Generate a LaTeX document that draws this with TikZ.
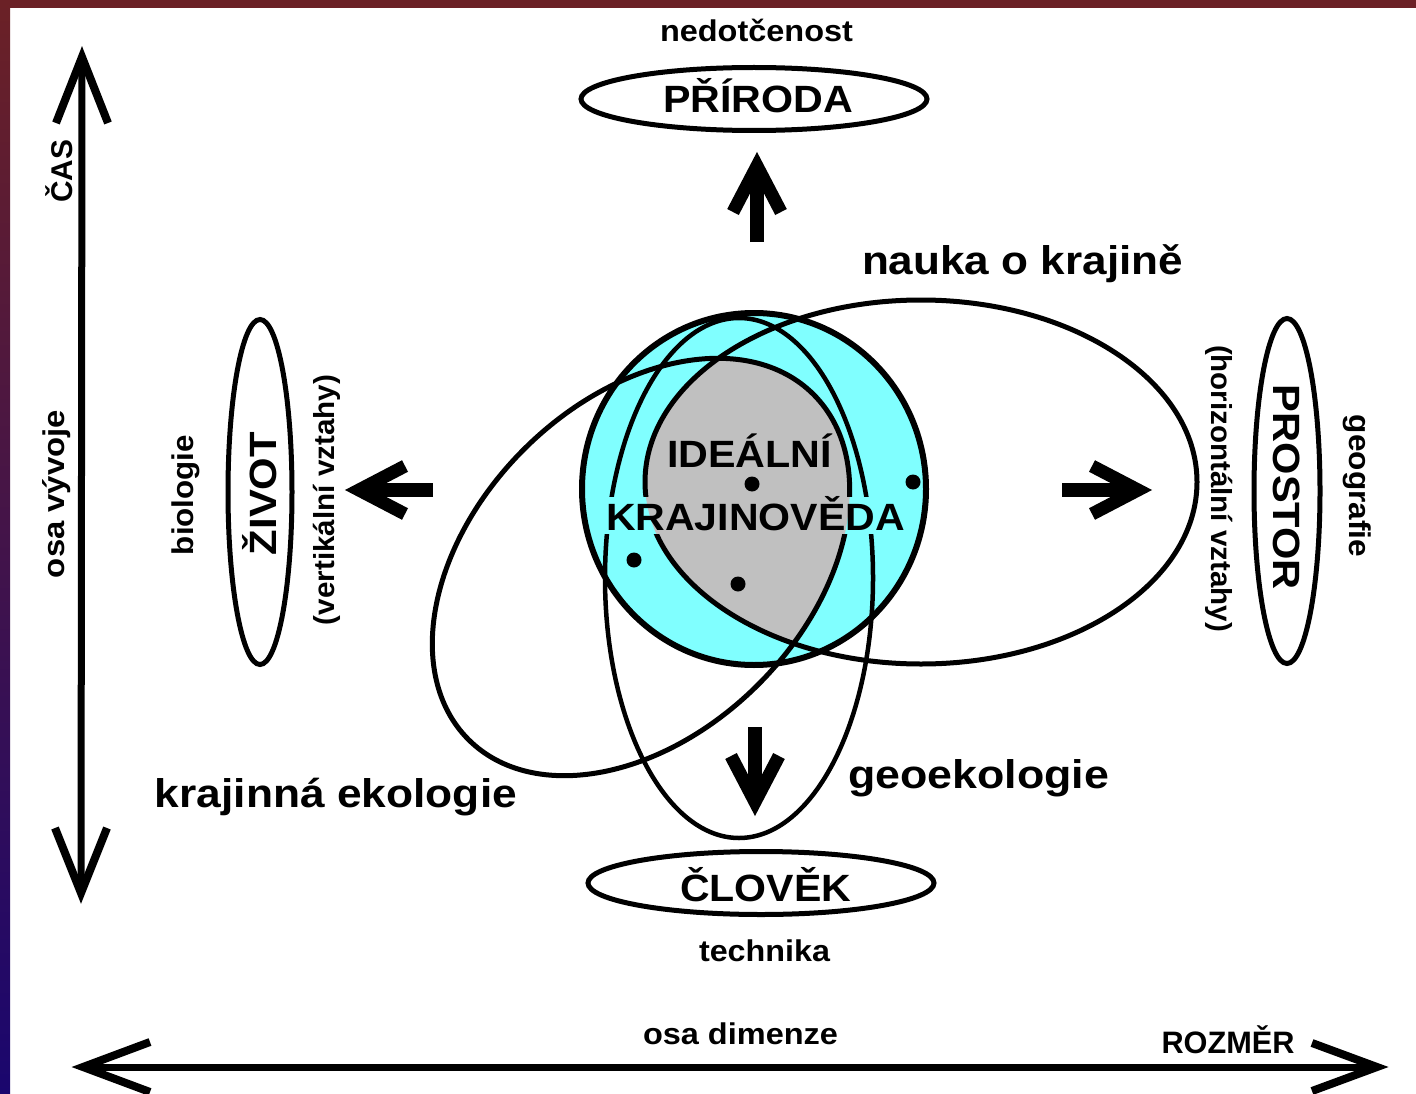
\documentclass[tikz,border=0pt]{standalone}
\usepackage{fontspec}
\setmainfont{Liberation Sans}
\usetikzlibrary{shapes.geometric}
\definecolor{cyanfill}{HTML}{80FFFF}
\definecolor{grayfill}{HTML}{C0C0C0}
\definecolor{bordermaroon}{RGB}{107,33,38}
\definecolor{bordernavy}{RGB}{26,6,110}
\newcommand{\tx}[3]{\fontsize{#1}{#1}\selectfont\bfseries\resizebox{#2pt}{\height}{#3}}
\tikzset{
  txt/.style={inner sep=0pt, outer sep=0pt, anchor=base},
  lblell/.style={ellipse, draw, line width=5pt, inner sep=0pt},
  dotnode/.style={circle, fill=black, inner sep=0pt, minimum size=15pt},
  axisline/.style={line width=7pt},
  axishead/.style={line width=8pt, line join=miter, miter limit=10},
  bigstem/.style={line width=14pt},
  bighead/.style={line width=13pt, line join=miter, miter limit=10},
  thickell/.style={line width=5pt},
}
\begin{document}
\begin{tikzpicture}[x=1pt,y=-1pt]
\useasboundingbox (0,0) rectangle (1416,1094);
\fill[white] (0,0) rectangle (1416,1094);
\shade[top color=bordermaroon, bottom color=bordernavy] (0,0) rectangle (10,1094);
\fill[bordermaroon] (0,0) rectangle (1416,8);

% centres
\coordinate (cc) at (754,489);
\coordinate (nk) at (921,482);
\coordinate (ke) at (641,567);
\coordinate (ge) at (739,578);

% fills
\fill[cyanfill] (cc) ellipse [x radius=172pt, y radius=176pt];
\begin{scope}
  \clip (nk) ellipse [x radius=276pt, y radius=182pt];
  \clip[rotate around={45:(ke)}] (ke) ellipse [x radius=244pt, y radius=166pt];
  \clip (ge) ellipse [x radius=134pt, y radius=260pt];
  \fill[grayfill] (550,280) rectangle (950,720);
\end{scope}

% outlines
\draw[line width=6pt] (cc) ellipse [x radius=172pt, y radius=176pt];
\draw[thickell] (nk) ellipse [x radius=276pt, y radius=182pt];
\draw[thickell, rotate around={45:(ke)}] (ke) ellipse [x radius=244pt, y radius=166pt];
\draw[line width=4.5pt] (ge) ellipse [x radius=134pt, y radius=260pt];

% background behind KRAJINOVEDA (lines are interrupted there)
\begin{scope}
  \clip (603,497) rectangle (909,533);
  \fill[cyanfill] (cc) ellipse [x radius=172pt, y radius=176pt];
  \clip (nk) ellipse [x radius=276pt, y radius=182pt];
  \clip[rotate around={45:(ke)}] (ke) ellipse [x radius=244pt, y radius=166pt];
  \clip (ge) ellipse [x radius=134pt, y radius=260pt];
  \fill[grayfill] (550,280) rectangle (950,720);
\end{scope}

% dots
\node[dotnode] (d1) at (752,484) {};
\node[dotnode] (d2) at (913,482) {};
\node[dotnode] (d3) at (634,560) {};
\node[dotnode] (d4) at (738,584) {};

% label ellipses
\node[lblell, minimum width=346pt, minimum height=63pt] (prirE) at (754,99) {};
\node[lblell, minimum width=346pt, minimum height=63pt] (clovE) at (761,883) {};
\node[lblell, minimum width=64pt, minimum height=345pt] (zivE) at (260,492) {};
\node[lblell, minimum width=66pt, minimum height=345pt] (prosE) at (1287,491) {};

% texts
\node[txt] (nedo) at (756.5,42) {\tx{30}{193}{nedotčenost}};
\node[txt] (prir) at (758,113) {\tx{38}{190}{PŘÍRODA}};
\node[txt] (nauka) at (1022.5,274) {\tx{40}{321}{nauka o krajině}};
\node[txt] (ideal) at (749.5,467) {\tx{38}{165}{IDEÁLNÍ}};
\node[txt] (kraj) at (755.5,530) {\tx{38}{299}{KRAJINOVĚDA}};
\node[txt] (geo) at (978.5,788) {\tx{40}{261}{geoekologie}};
\node[txt] (keko) at (336,807) {\tx{40}{362}{krajinná ekologie}};
\node[txt] (clov) at (765.5,901) {\tx{38}{171}{ČLOVĚK}};
\node[txt] (tech) at (764.5,961.5) {\tx{30}{131}{technika}};
\node[txt] (osad) at (740.5,1044) {\tx{30}{195}{osa dimenze}};
\node[txt] (rozm) at (1228,1053) {\tx{31}{133}{ROZMĚR}};
\node[txt, rotate=90] (cas) at (72,171.5) {\tx{30}{63}{ČAS}};
\node[txt, rotate=90] (osav) at (64,494) {\tx{30}{168}{osa vývoje}};
\node[txt, rotate=90] (bio) at (193.5,495) {\tx{30}{120}{biologie}};
\node[txt, rotate=90] (zivot) at (276,493.5) {\tx{38}{123}{ŽIVOT}};
\node[txt, rotate=90] (vert) at (334,500) {\tx{29}{250}{(vertikální vztahy)}};
\node[txt, rotate=-90] (prost) at (1273,487.5) {\tx{38}{205}{PROSTOR}};
\node[txt, rotate=-90] (horiz) at (1211,488.5) {\tx{29}{287}{(horizontální vztahy)}};
\node[txt, rotate=-90] (geog) at (1349,486) {\tx{30}{142}{geografie}};

% time axis
\coordinate (tU) at (82,57);
\coordinate (tD) at (81,893);
\draw[axisline] (tU) -- (tD);
\draw[axishead] (tU) ++(-26,66) -- (tU) -- ++(26,66);
\draw[axishead] (tD) ++(-26,-65) -- (tD) -- ++(26,-65);

% dimension axis
\coordinate (hL) at (83,1067);
\coordinate (hR) at (1377,1067);
\draw[axisline] (hL) -- (hR);
\draw[axishead] (hL) ++(67,-25) -- (hL) -- ++(67,25);
\draw[axishead] (hR) ++(-65,-24) -- (hR) -- ++(-65,24);

% direction arrows
\coordinate (uT) at (757,242);
\coordinate (uV) at (757,166);
\draw[bigstem] (uT) -- (uV);
\draw[bighead] (uV) ++(-24,46) -- (uV) -- ++(24,46);

\coordinate (dT) at (755,727);
\coordinate (dV) at (755,802);
\draw[bigstem] (dT) -- (dV);
\draw[bighead] (dV) ++(-24,-46) -- (dV) -- ++(24,-46);

\coordinate (lT) at (433,490);
\coordinate (lV) at (359,490);
\draw[bigstem] (lT) -- (lV);
\draw[bighead] (lV) ++(46,-24) -- (lV) -- ++(46,24);

\coordinate (rT) at (1062,490);
\coordinate (rV) at (1138,490);
\draw[bigstem] (rT) -- (rV);
\draw[bighead] (rV) ++(-46,-24) -- (rV) -- ++(-46,24);
\end{tikzpicture}
\end{document}
